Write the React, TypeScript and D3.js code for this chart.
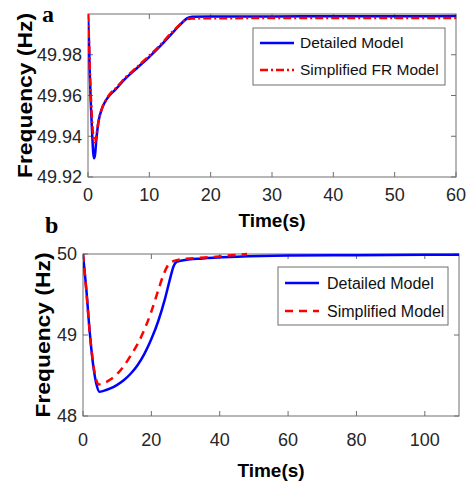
import React from "react";
import * as d3 from "d3";

const timeA = [0, 0.15, 0.3, 0.5, 0.7, 0.85, 1.0, 1.15, 1.35, 1.7, 2.2, 2.8, 3.5, 4.5, 6, 8, 10, 12, 14, 15.5, 16.2, 17, 20, 30, 40, 50, 60];
const detailedA = [50.0, 49.987, 49.970, 49.953, 49.940, 49.932, 49.9292, 49.931, 49.938, 49.947, 49.953, 49.957, 49.960, 49.963, 49.968, 49.9735, 49.979, 49.985, 49.9915, 49.9962, 49.998, 49.9987, 49.9988, 49.9988, 49.9989, 49.9989, 49.999];
const simplifiedA = [50.0, 49.988, 49.972, 49.957, 49.946, 49.940, 49.9375, 49.937, 49.940, 49.947, 49.953, 49.957, 49.9605, 49.9635, 49.9685, 49.974, 49.9795, 49.9855, 49.992, 49.9962, 49.9975, 49.9978, 49.9979, 49.998, 49.998, 49.998, 49.998];

const timeB = [0, 1, 2, 3, 4, 4.8, 6, 8, 10, 12, 14, 16, 18, 20, 22, 24, 25.5, 26.5, 27.5, 29, 35, 45, 60, 80, 100, 110];
const detailedB = [50, 49.55, 49.02, 48.62, 48.38, 48.30, 48.31, 48.34, 48.385, 48.445, 48.525, 48.63, 48.77, 48.95, 49.17, 49.45, 49.70, 49.85, 49.905, 49.92, 49.945, 49.965, 49.98, 49.985, 49.99, 49.99];
const timeBS = [0, 1, 2, 3, 4, 4.5, 6, 8, 10, 12, 14, 16, 18, 20, 22, 23.5, 25, 26.3, 28, 30, 37, 45, 48];
const simplifiedB = [50, 49.53, 49.02, 48.64, 48.43, 48.39, 48.405, 48.45, 48.52, 48.62, 48.75, 48.89, 49.07, 49.29, 49.55, 49.74, 49.87, 49.91, 49.93, 49.94, 49.96, 49.99, 50.0];

const xTicksA = [0, 10, 20, 30, 40, 50, 60];
const yTicksA = [49.92, 49.94, 49.96, 49.98];
const xTicksB = [0, 20, 40, 60, 80, 100];
const yTicksB = [48, 49, 50];

const legendA = ["Detailed Model", "Simplified FR Model"];
const legendB = ["Detailed Model", "Simplified Model"];

const BOX = "#6e6e6e";
const TXT = "#262626";
const FONT = "'Liberation Sans', Arial, sans-serif";

type PanelProps = {
  id: string;
  left: number; right: number; top: number; bottom: number;
  xDomain: [number, number]; yDomain: [number, number];
  xTicks: number[]; yTicks: number[];
  yFmt: (v: number) => string;
  series: { t: number[]; v: number[]; color: string; dash?: string }[];
  legend: string[];
  legendBox: { x: number; y: number; w: number; h: number; lineX: number; textX: number; rows: number[]; fs: number };
  xLabelY: number;
  yLabelX: number;
  tickLabelY: number;
  letter: string; letterX: number; letterY: number;
};

function Panel(p: PanelProps) {
  const x = d3.scaleLinear().domain(p.xDomain).range([p.left, p.right]);
  const y = d3.scaleLinear().domain(p.yDomain).range([p.bottom, p.top]);
  const tl = 5;
  return (
    <g>
      <defs>
        <clipPath id={"clip" + p.id}>
          <rect x={p.left} y={p.top - 3} width={p.right - p.left} height={p.bottom - p.top + 3} />
        </clipPath>
      </defs>
      <rect x={p.left} y={p.top} width={p.right - p.left} height={p.bottom - p.top} fill="white" stroke={BOX} strokeWidth={1} />
      {p.xTicks.map((t) => (
        <g key={"xt" + t}>
          <line x1={x(t)} x2={x(t)} y1={p.bottom} y2={p.bottom - tl} stroke={BOX} />
          <line x1={x(t)} x2={x(t)} y1={p.top} y2={p.top + tl} stroke={BOX} />
          <text x={x(t)} y={p.tickLabelY} textAnchor="middle" fontFamily={FONT} fontSize={18} fill={TXT}>{t}</text>
        </g>
      ))}
      {p.yTicks.map((t) => (
        <g key={"yt" + t}>
          <line x1={p.left} x2={p.left + tl} y1={y(t)} y2={y(t)} stroke={BOX} />
          <line x1={p.right} x2={p.right - tl} y1={y(t)} y2={y(t)} stroke={BOX} />
          <text x={p.left - 6} y={y(t)} dy="0.35em" textAnchor="end" fontFamily={FONT} fontSize={18} fill={TXT}>{p.yFmt(t)}</text>
        </g>
      ))}
      <g clipPath={`url(#clip${p.id})`}>
        {p.series.map((s, i) => {
          const line = d3.line<number>().x((_, j) => x(s.t[j])).y((d) => y(d)).curve(d3.curveMonotoneX);
          return <path key={i} d={line(s.v) || ""} fill="none" stroke={s.color} strokeWidth={2.5} strokeDasharray={s.dash} />;
        })}
      </g>
      <rect x={p.legendBox.x} y={p.legendBox.y} width={p.legendBox.w} height={p.legendBox.h} fill="white" stroke={BOX} strokeWidth={1} />
      {p.legend.map((name, i) => (
        <g key={name}>
          <line x1={p.legendBox.lineX} x2={p.legendBox.lineX + 34} y1={p.legendBox.rows[i]} y2={p.legendBox.rows[i]} stroke={p.series[i].color} strokeWidth={2.5} strokeDasharray={p.series[i].dash} />
          <text x={p.legendBox.textX} y={p.legendBox.rows[i]} dy="0.35em" fontFamily={FONT} fontSize={p.legendBox.fs} fill="#111">{name}</text>
        </g>
      ))}
      <text x={(p.left + p.right) / 2} y={p.xLabelY} textAnchor="middle" fontFamily={FONT} fontWeight="bold" fontSize={19} fill="#000">Time(s)</text>
      <text transform={`translate(${p.yLabelX},${(p.top + p.bottom) / 2}) rotate(-90)`} textAnchor="middle" dy="0.35em" fontFamily={FONT} fontWeight="bold" fontSize={21} fill="#000" textLength={165} lengthAdjust="spacingAndGlyphs">Frequency (Hz)</text>
      <text x={p.letterX} y={p.letterY} fontFamily="'Liberation Serif', 'Times New Roman', serif" fontWeight="bold" fontSize={24} fill="#000">{p.letter}</text>
    </g>
  );
}

export default function App() {
  return (
    <svg width={470} height={486} style={{ display: "block", position: "absolute", left: 0, top: 0, background: "white" }}>
      <Panel
        id="a"
        left={88} right={456} top={14} bottom={177}
        xDomain={[0, 60]} yDomain={[49.92, 50.0]}
        xTicks={xTicksA} yTicks={yTicksA}
        yFmt={(v) => v.toFixed(2)}
        series={[
          { t: timeA, v: detailedA, color: "#0000ff" },
          { t: timeA, v: simplifiedA, color: "#ff0000", dash: "8,3,2,3" },
        ]}
        legend={legendA}
        legendBox={{ x: 253, y: 28, w: 192, h: 57, lineX: 260, textX: 300, rows: [43, 70], fs: 15.5 }}
        xLabelY={227}
        yLabelX={25}
        tickLabelY={201}
        letter="a" letterX={42} letterY={22}
      />
      <Panel
        id="b"
        left={83} right={459} top={254} bottom={416}
        xDomain={[0, 110]} yDomain={[48, 50]}
        xTicks={xTicksB} yTicks={yTicksB}
        yFmt={(v) => String(v)}
        series={[
          { t: timeB, v: detailedB, color: "#0000ff" },
          { t: timeBS, v: simplifiedB, color: "#ff0000", dash: "8,6" },
        ]}
        legend={legendB}
        legendBox={{ x: 278, y: 267, w: 170, h: 58, lineX: 285, textX: 327, rows: [283, 311], fs: 16 }}
        xLabelY={477}
        yLabelX={43}
        tickLabelY={446}
        letter="b" letterX={45} letterY={233}
      />
    </svg>
  );
}
